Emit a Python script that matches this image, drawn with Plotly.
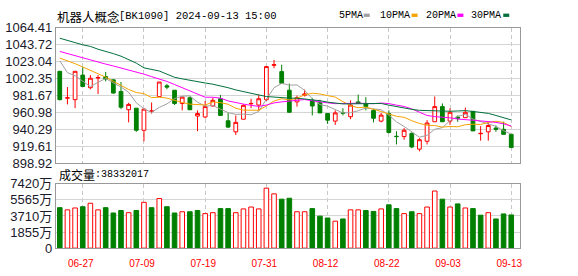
import plotly.graph_objects as go

# ---------------- data ----------------
dates = ["06-24", "06-25", "06-26", "06-27", "06-28", "07-01", "07-02", "07-03", "07-04", "07-05",
         "07-08", "07-09", "07-10", "07-11", "07-12", "07-15", "07-16", "07-17", "07-18", "07-19",
         "07-22", "07-23", "07-24", "07-25", "07-26", "07-29", "07-30", "07-31", "08-01", "08-02",
         "08-05", "08-06", "08-07", "08-08", "08-09", "08-12", "08-13", "08-14", "08-15", "08-16",
         "08-19", "08-20", "08-21", "08-22", "08-23", "08-26", "08-27", "08-28", "08-29", "08-30",
         "09-02", "09-03", "09-04", "09-05", "09-06", "09-09", "09-10", "09-11", "09-12", "09-13"]

opens = [1011.17, 978.40, 976.45, 1006.54, 991.11, 1003.00, 1004.62, 1000.76, 986.48, 964.11,
         966.04, 939.03, 962.20, 980.31, 993.40, 988.03, 971.83, 978.77, 956.39, 955.24,
         968.74, 977.61, 950.61, 937.11, 952.54, 971.40, 969.90, 976.45, 1018.50, 1010.79,
         988.03, 973.75, 981.90, 975.68, 972.60, 959.48, 950.22, 960.50, 955.62, 973.75,
         971.83, 963.34, 950.22, 959.48, 931.70, 931.32, 935.18, 915.89, 925.53, 949.45,
         967.97, 950.22, 955.24, 954.47, 962.18, 934.80, 937.11, 941.73, 940.19, 934.02]

highs = [1011.50, 991.88, 1011.17, 1016.19, 1006.54, 1006.54, 1010.40, 1001.00, 998.06, 972.60,
         966.04, 966.04, 972.98, 998.06, 995.74, 988.03, 980.31, 980.31, 963.34, 974.91,
         978.77, 982.24, 960.25, 957.17, 970.67, 977.61, 982.63, 1016.96, 1025.06, 1019.28,
         996.13, 981.47, 988.80, 978.77, 976.45, 959.48, 963.34, 966.04, 975.68, 982.63,
         979.54, 964.88, 960.25, 963.34, 937.88, 941.73, 936.33, 929.39, 951.38, 980.31,
         971.83, 966.04, 957.17, 966.81, 962.18, 944.05, 948.68, 944.82, 949.45, 934.02]

lows = [975.68, 970.67, 966.04, 992.66, 989.19, 983.40, 998.83, 984.00, 964.88, 948.68,
        937.11, 925.53, 959.48, 980.31, 989.19, 969.90, 963.34, 964.11, 937.88, 953.69,
        967.97, 957.17, 941.73, 933.25, 952.54, 966.04, 963.34, 974.91, 1015.03, 996.51,
        961.03, 967.97, 980.31, 957.17, 960.25, 946.75, 945.59, 957.17, 952.54, 971.83,
        963.34, 948.68, 948.68, 935.18, 921.67, 927.46, 917.04, 913.19, 921.67, 949.45,
        949.45, 945.59, 949.45, 954.47, 938.26, 926.30, 926.30, 937.11, 934.02, 917.82]

closes = [976.45, 978.77, 1011.17, 992.66, 1002.69, 1003.46, 1001.92, 984.56, 967.20, 970.67,
          939.03, 964.88, 962.57, 998.06, 991.88, 971.83, 979.54, 964.11, 959.48, 967.97,
          975.68, 957.17, 942.89, 948.68, 969.51, 971.83, 977.61, 1016.96, 1019.28, 996.51,
          961.03, 978.77, 983.40, 968.74, 960.25, 951.38, 960.25, 959.90, 969.90, 971.83,
          967.97, 953.69, 957.55, 936.33, 931.30, 939.03, 918.58, 927.46, 947.91, 967.97,
          949.45, 961.03, 953.69, 961.03, 938.26, 935.18, 944.82, 940.19, 934.02, 917.82]

# volume in 万 (10,000 units)
volumes = [4671, 4418, 4635, 4780, 5179, 4418, 4671, 4056, 4346, 4092,
           4346, 5287, 4671, 5722, 4780, 4056, 4201, 4201, 4346, 3984,
           4092, 4563, 4563, 4092, 4527, 4744, 4527, 6917, 6265, 5649,
           5758, 4201, 4201, 4563, 3694, 3476, 3114, 3368, 4418, 4418,
           4346, 4237, 4527, 4997, 4563, 3984, 4201, 3984, 4744, 6591,
           5649, 4744, 5106, 4635, 4563, 3802, 4092, 3368, 3947, 3833.2017]

ma5 = [1023.90, 1009.60, 1005.80, 999.60, 992.35, 997.75, 1002.38, 997.06, 991.97, 985.56,
       972.68, 965.27, 960.87, 967.04, 971.28, 977.84, 980.78, 981.08, 973.37, 968.59,
       969.36, 964.88, 960.64, 958.48, 958.79, 958.02, 962.10, 976.92, 991.04, 996.44,
       994.28, 994.51, 987.80, 977.69, 970.44, 968.51, 964.80, 960.30, 960.54, 962.85,
       966.17, 964.86, 964.19, 957.47, 949.37, 943.58, 936.56, 930.54, 932.86, 940.19,
       942.27, 950.76, 956.01, 958.63, 952.69, 949.84, 946.60, 943.90, 938.49, 934.41]

ma10 = [1027.40, 1024.40, 1020.50, 1016.50, 1012.50, 1008.50, 1004.00, 999.00, 993.50, 988.96,
        985.22, 983.83, 978.97, 979.51, 978.42, 975.26, 973.03, 970.98, 970.21, 969.94,
        973.60, 972.83, 970.86, 965.93, 963.69, 963.69, 963.49, 968.78, 974.76, 977.62,
        976.15, 978.31, 982.36, 984.37, 983.44, 981.40, 979.66, 974.05, 969.12, 966.65,
        967.34, 964.83, 962.25, 959.01, 956.11, 954.88, 950.71, 947.37, 945.17, 944.78,
        942.93, 943.66, 943.28, 945.75, 946.44, 946.06, 948.68, 949.96, 948.56, 943.55]

ma20 = [1035.50, 1032.80, 1030.10, 1027.40, 1025.10, 1022.80, 1020.00, 1017.70, 1015.40, 1013.10,
        1010.40, 1007.70, 1004.60, 1001.90, 998.80, 995.00, 991.00, 987.50, 983.50, 979.45,
        979.41, 978.33, 974.92, 972.72, 971.06, 969.48, 968.26, 969.88, 972.49, 973.78,
        974.88, 975.57, 976.61, 975.15, 973.57, 972.55, 971.58, 971.42, 971.94, 972.14,
        971.75, 971.57, 972.31, 971.69, 969.78, 968.14, 965.19, 960.71, 957.15, 955.72,
        955.14, 954.25, 952.77, 952.38, 951.28, 950.47, 949.70, 948.67, 946.87, 944.17]

ma30 = [1051.68, 1048.59, 1046.28, 1043.58, 1041.65, 1038.18, 1035.86, 1032.78, 1029.69, 1025.83,
        1021.20, 1015.42, 1013.87, 1011.56, 1007.70, 1003.84, 1001.92, 999.99, 998.44, 996.90,
        995.36, 993.43, 991.11, 988.41, 986.10, 984.17, 982.24, 980.31, 979.54, 978.84,
        978.33, 978.32, 977.40, 976.60, 975.19, 973.45, 972.06, 971.27, 971.36, 971.41,
        972.37, 971.99, 971.83, 969.77, 967.75, 966.66, 964.62, 963.40, 963.02, 963.02,
        962.14, 962.27, 962.63, 963.04, 962.00, 960.78, 959.69, 957.13, 954.29, 951.66]

price_ticks = [1064.41, 1043.72, 1023.04, 1002.35, 981.67, 960.98, 940.29, 919.61, 898.92]
vol_ticks = [0, 1855, 3710, 5565, 7420]
vol_tick_text = ["0", "1855万", "3710万", "5565万", "7420万"]
date_ticks = ["06-27", "07-09", "07-19", "07-31", "08-12", "08-22", "09-03", "09-13"]

title_cn = "机器人概念"
title_rest = "[BK1090] 2024-09-13 15:00"
vol_label_cn = "成交量"
vol_label_num = ":38332017"
ma_names = ["5PMA", "10PMA", "20PMA", "30PMA"]

# ---------------- style ----------------
W, H = 578, 276
RED = "#ff0000"
GREEN = "#008000"
MA_COLORS = ["#a0a0a0", "#f5a300", "#ff00ff", "#00703c"]
GRID = "#d4d4d4"
BORDER = "#999999"
X0, X1 = 56, 522
MAIN_T, MAIN_B = 22, 165
VOL_T, VOL_B = 187, 255
XR = [-0.52, 60.17]


def px(x):
    return x / W


def py(y):
    return 1 - y / H


fig = go.Figure()

fig.add_trace(go.Candlestick(
    x=dates, open=opens, high=highs, low=lows, close=closes,
    increasing=dict(line=dict(color=RED, width=1), fillcolor="white"),
    decreasing=dict(line=dict(color=GREEN, width=1), fillcolor=GREEN),
    whiskerwidth=0, xaxis="x", yaxis="y", hoverinfo="skip", showlegend=False))

for vals, col in zip([ma5, ma10, ma20, ma30], MA_COLORS):
    fig.add_trace(go.Scatter(x=dates, y=vals, mode="lines",
                             line=dict(color=col, width=1),
                             xaxis="x", yaxis="y", hoverinfo="skip", showlegend=False))

up = [closes[i] >= (closes[i - 1] if i > 0 else opens[i]) for i in range(len(closes))]
fig.add_trace(go.Bar(
    x=dates, y=volumes, width=0.6,
    marker=dict(color=["white" if u else GREEN for u in up],
                line=dict(color=[RED if u else GREEN for u in up], width=1)),
    xaxis="x2", yaxis="y2", hoverinfo="skip", showlegend=False))

common_x = dict(type="category", range=XR, domain=[px(X0), px(X1)],
                tickvals=date_ticks, showgrid=True, gridcolor="#c8c8c8",
                griddash="4px,3px", gridwidth=1, showline=True, mirror=True,
                linecolor=BORDER, linewidth=1, zeroline=False, fixedrange=True)

fig.update_layout(
    width=W, height=H, autosize=False,
    margin=dict(l=0, r=0, t=0, b=0, pad=0),
    paper_bgcolor="white", plot_bgcolor="white",
    showlegend=False, bargap=0.4,
    xaxis=dict(**common_x, anchor="y", showticklabels=False,
               rangeslider=dict(visible=False)),
    yaxis=dict(domain=[py(MAIN_B), py(MAIN_T)], range=[price_ticks[-1], price_ticks[0]],
               tickvals=price_ticks, ticktext=["%.2f" % v for v in price_ticks],
               tickfont=dict(family="Liberation Sans", size=13, color="#1a1a2a"),
               showgrid=True, gridcolor=GRID, gridwidth=1, showline=True, mirror=True,
               linecolor=BORDER, linewidth=1, zeroline=False, ticks="", fixedrange=True,
               anchor="x"),
    xaxis2=dict(**common_x, anchor="y2", showticklabels=True, ticktext=date_ticks,
                tickfont=dict(family="Liberation Sans", size=10, color=RED),
                ticks="outside", ticklen=6, tickcolor="rgba(0,0,0,0)",
                ticklabelshift=-2),
    yaxis2=dict(domain=[py(VOL_B), py(VOL_T)], range=[0, vol_ticks[-1]],
                tickvals=vol_ticks, ticktext=vol_tick_text,
                tickfont=dict(family="Liberation Sans, Noto Sans CJK SC", size=13, color="#1a1a2a"),
                showgrid=True, gridcolor=GRID, gridwidth=1, showline=True, mirror=True,
                linecolor=BORDER, linewidth=1, zeroline=False, ticks="", fixedrange=True,
                anchor="x2"),
)

ann = []
ann.append(dict(x=px(55), y=py(10), xref="paper", yref="paper", xanchor="left", yanchor="middle",
                text=title_cn, showarrow=False,
                font=dict(family="Noto Sans CJK SC", size=12.5, color="#000")))
ann.append(dict(x=px(55 + 5 * 12.5), y=py(10), xref="paper", yref="paper", xanchor="left",
                yanchor="middle", text=title_rest, showarrow=False,
                font=dict(family="Liberation Mono", size=10.5, color="#000")))
ann.append(dict(x=px(57), y=py(177.5), xref="paper", yref="paper", xanchor="left", yanchor="middle",
                text=vol_label_cn, showarrow=False,
                font=dict(family="Noto Sans CJK SC", size=12, color="#000")))
ann.append(dict(x=px(57 + 36), y=py(177.5), xref="paper", yref="paper", xanchor="left",
                yanchor="middle", text=vol_label_num, showarrow=False,
                font=dict(family="Liberation Mono", size=10, color="#000")))

legend_text_x = [338, 379, 425, 471]
legend_sq_x = [365, 413, 459, 505]
shapes = []
for name, col, tx, sx in zip(ma_names, MA_COLORS, legend_text_x, legend_sq_x):
    ann.append(dict(x=px(tx), y=py(9.5), xref="paper", yref="paper", xanchor="left",
                    yanchor="middle", text=name, showarrow=False,
                    font=dict(family="Liberation Mono", size=10, color="#000")))
    shapes.append(dict(type="rect", xref="paper", yref="paper",
                       x0=px(sx), x1=px(sx + 6), y0=py(10.5), y1=py(7),
                       fillcolor=col, line=dict(width=0)))

fig.update_layout(annotations=ann, shapes=shapes)

fig.write_html("out.html", config={"displayModeBar": False, "staticPlot": True})
